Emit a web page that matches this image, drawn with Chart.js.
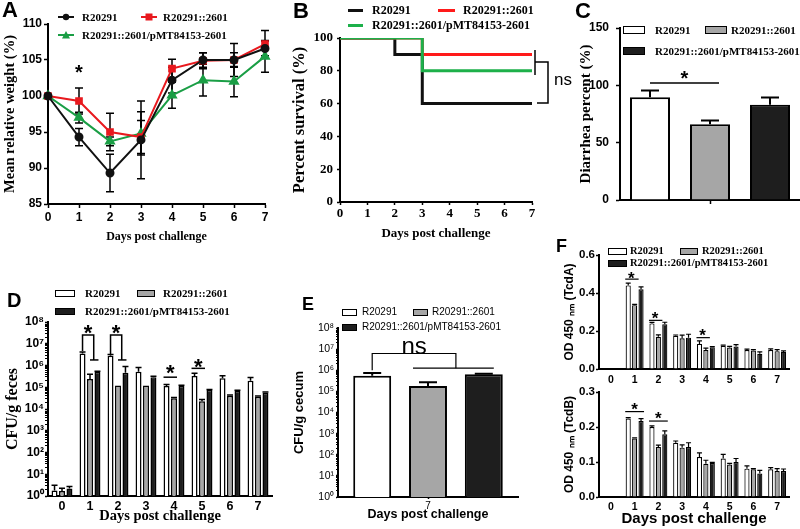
<!DOCTYPE html>
<html>
<head>
<meta charset="utf-8">
<script src="https://cdn.jsdelivr.net/npm/chart.js@4.4.1/dist/chart.umd.min.js"></script>
<style>
    body { margin: 0; background: #fff; }
    #fig { position: relative; width: 800px; height: 529px; overflow: hidden; background: #fff; }
    #fig canvas { position: absolute; }
    .txt { position: absolute; white-space: nowrap; color: #000; }
    .sw { position: absolute; box-sizing: border-box; }
</style>
</head>
<body>
<div id="fig"></div>
<script>
const DAYS = ['0', '1', '2', '3', '4', '5', '6', '7'];
const GROUPS = ['R20291', 'R20291::2601', 'R20291::2601/pMT84153-2601'];

// A - mean relative weight (%)
const weightWT = [100, 94.3, 89.3, 93.9, 102.2, 105.0, 105.0, 106.6];
const weightWTSem = [0, 1.2, 2.6, 5.4, 1.8, 1.0, 1.0, 1.0];
const weightMut = [100, 99.3, 95.0, 94.3, 103.8, 104.9, 105.0, 107.2];
const weightMutSem = [0, 1.8, 2.6, 2.3, 1.3, 1.1, 2.3, 1.9];
const weightComp = [100, 97.0, 93.7, 94.8, 100.1, 102.2, 102.0, 105.5];
const weightCompSem = [0, 0.75, 0.6, 3.0, 1.8, 2.2, 2.1, 2.2];

// B - percent survival (step points)
const survWTDays = [0, 2, 3, 7];
const survWT = [100, 90, 60, 60];
const survMutDays = [0, 3, 7];
const survMut = [100, 90, 90];
const survCompDays = [0, 3, 7];
const survComp = [100, 80, 80];

// C - diarrhea percent
const diarrhea = [89.7, 66.1, 83.0];
const diarrheaSem = [5.8, 3.2, 6.4];

// D - CFU/g feces
const fecesWT = [1.8, 3.6e6, 2.8e6, 5.2e5, 1.15e5, 3.3e5, 2.6e5, 2.0e5];
const fecesWTSem = [1.3, 0.6e6, 0.4e6, 2.8e5, 0.2e5, 1.1e5, 0.8e5, 0.8e5];
const fecesMut = [1.7, 2.4e5, 1.2e5, 1.2e5, 3.1e4, 2.3e4, 4.1e4, 3.7e4];
const fecesMutSem = [0.6, 1.6e5, 0, 0, 0.3e4, 0.4e4, 0.3e4, 0.3e4];
const fecesComp = [2.2, 5.2e5, 4.6e5, 2.9e5, 1.15e5, 7.4e4, 6.8e4, 5.6e4];
const fecesCompSem = [0.5, 0.3e5, 4.4e5, 0.3e5, 0.1e5, 0.5e4, 0.5e4, 0.4e4];

// E - CFU/g cecum, day 7
const cecum = [5.5e5, 1.8e5, 6.5e5];
const cecumSem = [1.9e5, 0.9e5, 0.3e5];

// F - OD 450 nm, TcdA and TcdB
const tcdaWT = [null, 0.440, 0.240, 0.175, 0.132, 0.122, 0.100, 0.100];
const tcdaWTSem = [0, 0.012, 0.005, 0.004, 0.016, 0.004, 0.005, 0.006];
const tcdaMut = [null, 0.336, 0.170, 0.162, 0.100, 0.113, 0.097, 0.094];
const tcdaMutSem = [0, 0.004, 0.010, 0.016, 0.010, 0.006, 0.005, 0.008];
const tcdaComp = [null, 0.420, 0.236, 0.165, 0.115, 0.118, 0.080, 0.090];
const tcdaCompSem = [0, 0.012, 0.010, 0.018, 0.003, 0.010, 0.010, 0.005];

const tcdbWT = [null, 0.224, 0.200, 0.155, 0.114, 0.110, 0.081, 0.079];
const tcdbWTSem = [0, 0.003, 0.003, 0.005, 0.012, 0.012, 0.008, 0.005];
const tcdbMut = [null, 0.167, 0.143, 0.141, 0.095, 0.093, 0.079, 0.074];
const tcdbMutSem = [0, 0.002, 0.005, 0.008, 0.010, 0.003, 0.002, 0.007];
const tcdbComp = [null, 0.217, 0.179, 0.143, 0.097, 0.100, 0.067, 0.074];
const tcdbCompSem = [0, 0.007, 0.010, 0.012, 0.002, 0.010, 0.009, 0.006];

// log axis tick exponents (10^0 .. 10^8)
const LOG_EXPS = [0, 1, 2, 3, 4, 5, 6, 7, 8];
const SUPS = ['⁰', '¹', '²', '³', '⁴', '⁵', '⁶', '⁷', '⁸'];

const LINE_COLORS = ['#111111', '#e8191e', '#1a9e45'];
const FILLS = ['#ffffff', '#a6a6a6', '#1e1e1e'];
const SANS = "'Liberation Sans', Arial, sans-serif";
const SERIF = "'Liberation Serif', 'Times New Roman', serif";

const fig = document.getElementById('fig');
const font = (family, size, weight = 'bold') => ({family, size, weight, lineHeight: 1.2});

function addCanvas(l, t, w, h) {
    const c = document.createElement('canvas');
    c.width = w;
    c.height = h;
    c.style.left = l + 'px';
    c.style.top = t + 'px';
    fig.appendChild(c);
    return c;
}

function addText(text, x, y, css) {
    const d = document.createElement('div');
    d.className = 'txt';
    d.textContent = text;
    d.style.left = x + 'px';
    d.style.top = y + 'px';
    Object.assign(d.style, css);
    fig.appendChild(d);
    return d;
}

function addSwatch(x, y, w, h, css) {
    const d = document.createElement('div');
    d.className = 'sw';
    Object.assign(d.style, {left: x + 'px', top: (y - h / 2) + 'px', width: w + 'px', height: h + 'px'}, css);
    fig.appendChild(d);
}

function addMarker(x, y, color, shape) {
    const ns = 'http://www.w3.org/2000/svg';
    const svg = document.createElementNS(ns, 'svg');
    svg.setAttribute('width', 16);
    svg.setAttribute('height', 10);
    svg.style.position = 'absolute';
    svg.style.left = x + 'px';
    svg.style.top = (y - 5) + 'px';
    let mark = '';
    if (shape === 'circle') mark = `<circle cx="8" cy="5" r="3.2" fill="${color}"/>`;
    if (shape === 'rect') mark = `<rect x="4.5" y="1.5" width="7" height="7" fill="${color}"/>`;
    if (shape === 'triangle') mark = `<polygon points="8,1 12,8.5 4,8.5" fill="${color}"/>`;
    svg.innerHTML = `<line x1="0" y1="5" x2="16" y2="5" stroke="${color}" stroke-width="2"/>` + mark;
    fig.appendChild(svg);
}

function legendText(text, x, y, size, family = SERIF, weight = 'bold') {
    addText(text, x, y - 7, {font: `${weight} ${size}px ${family}`, lineHeight: '14px'});
}

function panelLetter(letter, x, y, size) {
    addText(letter, x, y, {font: `bold ${size}px ${SANS}`, lineHeight: '1'});
}

function isPow10(v) {
    const l = Math.log10(v);
    return Math.abs(l - Math.round(l)) < 1e-9;
}

function setLogTicks(scale) {
    const ticks = [];
    LOG_EXPS.forEach(e => {
        ticks.push({value: Math.pow(10, e)});
        if (e < 8) for (let m = 2; m < 10; m++) ticks.push({value: m * Math.pow(10, e)});
    });
    scale.ticks = ticks;
}

function logLabel(value) {
    return isPow10(value) ? '10' + SUPS[Math.round(Math.log10(value))] : '';
}

function axis(thick, o) {
    const marks = (o.tickLength || 0) > 0;
    return Object.assign({
        afterFit(s) { if (s.isHorizontal()) s.height = thick; else s.width = thick; },
        border: {color: '#000', width: 2},
        grid: {
            display: marks, drawOnChartArea: false, drawTicks: marks, offset: false,
            tickLength: o.tickLength || 0, tickWidth: o.tickWidth || 1.5, tickColor: '#000'
        },
        ticks: Object.assign({color: '#000', font: o.tickFont, padding: o.tickPad || 0, autoSkip: false, maxRotation: 0}, o.ticks),
        title: {display: !!o.title, text: o.title || '', color: '#000', font: o.titleFont, padding: o.titlePad || 0}
    }, o.scale);
}

// SEM whiskers, drawn through the y scale
const errorBars = {
    id: 'errorBars',
    beforeDatasetsDraw(chart) {
        const ctx = chart.ctx;
        const y = chart.scales.y;
        chart.data.datasets.forEach((ds, i) => {
            if (!ds.errors) return;
            chart.getDatasetMeta(i).data.forEach((el, j) => {
                const v = ds.data[j];
                const e = ds.errors[j];
                if (v == null || !e) return;
                const top = y.getPixelForValue(v + e);
                const bot = ds.bothErrors ? y.getPixelForValue(v - e) : el.y;
                const cap = ds.errCap || 4;
                ctx.save();
                ctx.strokeStyle = '#000';
                ctx.lineWidth = ds.errWidth || 1.5;
                ctx.beginPath();
                ctx.moveTo(el.x, bot);
                ctx.lineTo(el.x, top);
                ctx.moveTo(el.x - cap, top);
                ctx.lineTo(el.x + cap, top);
                if (ds.bothErrors) {
                    ctx.moveTo(el.x - cap, bot);
                    ctx.lineTo(el.x + cap, bot);
                }
                ctx.stroke();
                ctx.restore();
            });
        });
    }
};

function overlay(id, draw) {
    return {
        id,
        afterDatasetsDraw(chart) {
            const ctx = chart.ctx;
            ctx.save();
            ctx.strokeStyle = '#000';
            ctx.fillStyle = '#000';
            draw(chart, ctx);
            ctx.restore();
        }
    };
}

function poly(ctx, pts, lw = 1.5) {
    ctx.lineWidth = lw;
    ctx.beginPath();
    pts.forEach((p, i) => i ? ctx.lineTo(p[0], p[1]) : ctx.moveTo(p[0], p[1]));
    ctx.stroke();
}

function star(ctx, x, y, size) {
    ctx.font = `bold ${size}px ${SANS}`;
    ctx.textAlign = 'center';
    ctx.textBaseline = 'alphabetic';
    ctx.fillText('*', x, y + 0.56 * size);
}

function word(ctx, text, x, y, size) {
    ctx.font = `${size}px ${SANS}`;
    ctx.textAlign = 'center';
    ctx.textBaseline = 'alphabetic';
    ctx.fillText(text, x, y + 0.26 * size);
}

const barX = (chart, ds, i) => chart.getDatasetMeta(ds).data[i].x;

function lineSet(label, data, errors, color, pointStyle, radius) {
    return {
        label, data, errors, errCap: 4, bothErrors: true,
        borderColor: color, backgroundColor: color, borderWidth: 2,
        pointStyle, pointRadius: radius, pointBackgroundColor: color, pointBorderColor: color
    };
}

function stepSet(label, days, values, color, order) {
    return {
        label, order, data: days.map((d, i) => ({x: d, y: values[i]})),
        borderColor: color, borderWidth: 3, pointRadius: 0, stepped: true
    };
}

function barSet(label, data, errors, fill, o) {
    return Object.assign({label, data, errors, backgroundColor: fill, borderColor: '#000'}, o);
}

function makeChart(rect, pad, type, data, scales, extra) {
    const canvas = addCanvas(...rect);
    return new Chart(canvas, {
        type,
        data,
        options: {
            responsive: false,
            animation: false,
            events: [],
            layout: {padding: pad},
            plugins: {legend: {display: false}, tooltip: {enabled: false}},
            scales
        },
        plugins: [errorBars].concat(extra || [])
    });
}

// ---------- A ----------
makeChart([0, 0, 272, 248], {left: 0, top: 24, right: 7, bottom: 0}, 'line', {
    labels: DAYS,
    datasets: [
        lineSet(GROUPS[0], weightWT, weightWTSem, LINE_COLORS[0], 'circle', 3.5),
        lineSet(GROUPS[1], weightMut, weightMutSem, LINE_COLORS[1], 'rect', 4),
        lineSet(GROUPS[2], weightComp, weightCompSem, LINE_COLORS[2], 'triangle', 4.5)
    ]
}, {
    x: axis(44, {tickLength: 4, tickPad: 2, tickFont: font(SANS, 12), title: 'Days post challenge',
        titleFont: font(SERIF, 12), titlePad: {bottom: 4}, scale: {offset: false}}),
    y: axis(48, {tickLength: 4, tickPad: 2, tickFont: font(SANS, 12), title: 'Mean relative weight (%)',
        titleFont: font(SERIF, 14.5), titlePad: {top: 2}, ticks: {stepSize: 5}, scale: {min: 85, max: 110}})
}, [overlay('starA', (chart, ctx) => {
    star(ctx, chart.scales.x.getPixelForValue(1), chart.scales.y.getPixelForValue(103.9), 20);
})]);

// ---------- B ----------
makeChart([272, 0, 310, 248], {left: 0, top: 38, right: 50, bottom: 0}, 'line', {
    datasets: [
        stepSet(GROUPS[0], survWTDays, survWT, '#111111', 2),
        stepSet(GROUPS[1], survMutDays, survMut, '#ff1a1a', 1),
        stepSet(GROUPS[2], survCompDays, survComp, '#1db04a', 0)
    ]
}, {
    x: axis(46, {tickLength: 3, tickPad: 1, tickFont: font(SERIF, 13), title: 'Days post challenge',
        titleFont: font(SERIF, 13), titlePad: {bottom: 7}, ticks: {stepSize: 1},
        scale: {type: 'linear', min: 0, max: 7}}),
    y: axis(68, {tickLength: 3, tickPad: 4, tickFont: font(SERIF, 13), title: 'Percent survival (%)',
        titleFont: font(SERIF, 16.5), titlePad: {top: 18}, ticks: {stepSize: 20}, scale: {min: 0, max: 100}})
}, [overlay('nsB', (chart, ctx) => {
    const x7 = chart.scales.x.getPixelForValue(7);
    const y = v => chart.scales.y.getPixelForValue(v);
    poly(ctx, [[x7 + 3, y(92.7)], [x7 + 3, y(77.4)]]);
    poly(ctx, [[x7 + 3, y(85.4)], [x7 + 16, y(85.4)], [x7 + 16, y(60.4)], [x7 + 5, y(60.4)]]);
    word(ctx, 'ns', x7 + 31, y(73.8), 17);
})]);

// ---------- C ----------
const cBars = {borderWidth: 2, barPercentage: 0.667, categoryPercentage: 1, errCap: 9, errWidth: 2};
makeChart([565, 0, 235, 248], {left: 0, top: 28, right: 0, bottom: 0}, 'bar', {
    labels: [''],
    datasets: GROUPS.map((g, i) => barSet(g, [diarrhea[i]], [diarrheaSem[i]], FILLS[i], cBars))
}, {
    x: axis(48, {tickLength: 4, ticks: {display: false}}),
    y: axis(55, {tickLength: 4, tickPad: 7, tickFont: font(SANS, 12), title: 'Diarrhea percent (%)',
        titleFont: font(SERIF, 15), titlePad: {top: 12}, ticks: {stepSize: 50}, scale: {min: 0, max: 150}})
}, [overlay('sigC', (chart, ctx) => {
    const y = v => chart.scales.y.getPixelForValue(v);
    const xw = barX(chart, 0, 0), xg = barX(chart, 1, 0);
    poly(ctx, [[xw, y(102)], [xg + 9, y(102)]]);
    star(ctx, (xw + xg + 9) / 2, y(110), 20);
})]);

// ---------- D ----------
const dBars = {borderWidth: 1.5, barPercentage: 0.8, categoryPercentage: 0.8, errCap: 3};
makeChart([0, 280, 280, 249], {left: 0, top: 42, right: 8, bottom: 0}, 'bar', {
    labels: DAYS,
    datasets: [
        barSet(GROUPS[0], fecesWT, fecesWTSem, FILLS[0], dBars),
        barSet(GROUPS[1], fecesMut, fecesMutSem, FILLS[1], dBars),
        barSet(GROUPS[2], fecesComp, fecesCompSem, FILLS[2], dBars)
    ]
}, {
    x: axis(33, {tickPad: 3.5, tickFont: font(SANS, 12.5), title: 'Days post challenge',
        titleFont: font(SERIF, 14.5), titlePad: {bottom: 4.3}}),
    y: axis(48, {tickLength: 3, tickPad: 1, tickFont: font(SANS, 12), title: 'CFU/g feces',
        tickWidth: c => (c.tick && isPow10(c.tick.value)) ? 1.5 : 1,
        titleFont: font(SERIF, 16), titlePad: {top: 3}, ticks: {callback: logLabel},
        scale: {type: 'logarithmic', min: 1, max: 1e8, afterBuildTicks: setLogTicks}})
}, [overlay('sigD', (chart, ctx) => {
    const y = v => chart.scales.y.getPixelForValue(v);
    [[1, 4.6e6], [2, 3.4e6]].forEach(([d, start]) => {
        const xw = barX(chart, 0, d), xg = barX(chart, 1, d), xb = barX(chart, 2, d);
        const xr = (xg + xb) / 2;
        poly(ctx, [[xw, y(start)], [xw, y(2.5e7)], [xr, y(2.5e7)], [xr, y(1.8e6)]]);
        poly(ctx, [[xg, y(1.8e6)], [xb + 1, y(1.8e6)]]);
        star(ctx, (xw + xr) / 2, y(5.5e7), 22);
    });
    [[4, 2.9e5, 7.7e5], [5, 7.4e5, 1.5e6]].forEach(([d, lv, sv]) => {
        const xw = barX(chart, 0, d), xg = barX(chart, 1, d);
        poly(ctx, [[xw - 3, y(lv)], [xg + 3, y(lv)]]);
        star(ctx, (xw + xg) / 2, y(sv), 22);
    });
})]);

// ---------- E ----------
const eBars = {borderWidth: 2, barPercentage: 0.68, categoryPercentage: 0.93, errCap: 9, errWidth: 2};
makeChart([280, 280, 250, 249], {left: 0, top: 48, right: 12, bottom: 0}, 'bar', {
    labels: ['7'],
    datasets: GROUPS.map((g, i) => barSet(g, [cecum[i]], [cecumSem[i]], FILLS[i], eBars))
}, {
    x: axis(32, {tickLength: 2, tickPad: 1, tickFont: font(SANS, 10, 'normal'), title: 'Days post challenge',
        titleFont: font(SANS, 12.5), titlePad: {bottom: 6.5}}),
    y: axis(58, {tickLength: 2, tickPad: 2, tickFont: font(SANS, 10.5, 'normal'), title: 'CFU/g cecum',
        tickWidth: c => (c.tick && isPow10(c.tick.value)) ? 1.5 : 1,
        titleFont: font(SANS, 13), titlePad: {top: 12}, ticks: {callback: logLabel},
        scale: {type: 'logarithmic', min: 1, max: 1e8, afterBuildTicks: setLogTicks}})
}, [overlay('nsE', (chart, ctx) => {
    const y = v => chart.scales.y.getPixelForValue(v);
    const xw = barX(chart, 0, 0), xg = barX(chart, 1, 0), xb = barX(chart, 2, 0);
    const xm = (xg + xb) / 2;
    poly(ctx, [[xw, y(1e6)], [xw, y(6.2e6)], [xm, y(6.2e6)], [xm, y(1.26e6)]], 1.2);
    poly(ctx, [[xg - 15, y(1.26e6)], [xb + 10, y(1.26e6)]], 1.2);
    word(ctx, 'ns', (xw + xg) / 2 + 14, y(1.2e7), 24);
})]);

// ---------- F ----------
const fBars = {borderWidth: 1.2, barPercentage: 0.8, categoryPercentage: 0.81, errCap: 2.5, errWidth: 1.2};
const fTickFmt = v => v.toFixed(1);

makeChart([530, 235, 270, 152], {left: 0, top: 20, right: 11, bottom: 0}, 'bar', {
    labels: DAYS,
    datasets: [
        barSet(GROUPS[0], tcdaWT, tcdaWTSem, FILLS[0], fBars),
        barSet(GROUPS[1], tcdaMut, tcdaMutSem, FILLS[1], fBars),
        barSet(GROUPS[2], tcdaComp, tcdaCompSem, FILLS[2], fBars)
    ]
}, {
    x: axis(18, {tickPad: 5, tickFont: font(SANS, 10.5)}),
    y: axis(69, {tickLength: 3, tickPad: 1, tickFont: font(SANS, 11.5), title: 'OD 450 ₙₘ (TcdA)',
        titleFont: font(SANS, 12), titlePad: {top: 32}, ticks: {stepSize: 0.2, callback: fTickFmt},
        scale: {min: 0, max: 0.6}})
}, [overlay('sigFa', (chart, ctx) => {
    const y = v => chart.scales.y.getPixelForValue(v);
    [[1, 0.473, 0.5], [2, 0.256, 0.287], [4, 0.165, 0.195]].forEach(([d, lv, sv]) => {
        const xw = barX(chart, 0, d), xg = barX(chart, 1, d);
        poly(ctx, [[xw - 3, y(lv)], [xg + 4, y(lv)]], 1.2);
        star(ctx, (xw + xg) / 2, y(sv), 17);
    });
})]);

makeChart([530, 380, 270, 149], {left: 0, top: 12, right: 11, bottom: 0}, 'bar', {
    labels: DAYS,
    datasets: [
        barSet(GROUPS[0], tcdbWT, tcdbWTSem, FILLS[0], fBars),
        barSet(GROUPS[1], tcdbMut, tcdbMutSem, FILLS[1], fBars),
        barSet(GROUPS[2], tcdbComp, tcdbCompSem, FILLS[2], fBars)
    ]
}, {
    x: axis(32, {tickPad: 4, tickFont: font(SANS, 10.5), title: 'Days post challenge',
        titleFont: font(SANS, 15), titlePad: {bottom: 1}}),
    y: axis(69, {tickLength: 3, tickPad: 1, tickFont: font(SANS, 11.5), title: 'OD 450 ₙₘ (TcdB)',
        titleFont: font(SANS, 12), titlePad: {top: 32}, ticks: {stepSize: 0.1, callback: fTickFmt},
        scale: {min: 0, max: 0.3}})
}, [overlay('sigFb', (chart, ctx) => {
    const y = v => chart.scales.y.getPixelForValue(v);
    [[1, 0.244, 0.262], [2, 0.217, 0.235]].forEach(([d, lv, sv]) => {
        const xw = barX(chart, 0, d), xb = barX(chart, 2, d);
        poly(ctx, [[xw - 3, y(lv)], [xb + 3, y(lv)]], 1.2);
        star(ctx, (xw + xb) / 2, y(sv), 17);
    });
})]);

// ---------- legends & panel letters ----------
addMarker(58, 17, LINE_COLORS[0], 'circle');   legendText(GROUPS[0], 82, 17, 11);
addMarker(141, 17, LINE_COLORS[1], 'rect');    legendText(GROUPS[1], 163, 17, 11);
addMarker(58, 35, LINE_COLORS[2], 'triangle'); legendText(GROUPS[2], 82, 35, 11);

addSwatch(348, 10, 15, 3, {background: '#111111'}); legendText(GROUPS[0], 372, 10, 12);
addSwatch(438, 10, 17, 3, {background: '#ff1a1a'}); legendText(GROUPS[1], 463, 10, 12);
addSwatch(348, 25, 15, 3, {background: '#1db04a'}); legendText(GROUPS[2], 372, 25, 12);

const boxBorder = b => ({border: `${b}px solid #000`});
addSwatch(623, 29.5, 22, 8, Object.assign({background: FILLS[0]}, boxBorder(1.5))); legendText(GROUPS[0], 655, 29.5, 11);
addSwatch(705, 29.5, 22, 8, Object.assign({background: FILLS[1]}, boxBorder(1.5))); legendText(GROUPS[1], 731, 29.5, 11);
addSwatch(623, 50.5, 22, 8, Object.assign({background: FILLS[2]}, boxBorder(1.5))); legendText(GROUPS[2], 655, 50.5, 11);

addSwatch(55, 293, 20, 7, Object.assign({background: FILLS[0]}, boxBorder(1.5))); legendText(GROUPS[0], 85, 293, 11);
addSwatch(137, 293, 18, 7, Object.assign({background: FILLS[1]}, boxBorder(1.5))); legendText(GROUPS[1], 163, 293, 11);
addSwatch(55, 311, 20, 7, Object.assign({background: FILLS[2]}, boxBorder(1.5))); legendText(GROUPS[2], 85, 311, 11);

addSwatch(342, 312, 15, 7, Object.assign({background: FILLS[0]}, boxBorder(1.5))); legendText(GROUPS[0], 362, 312, 10, SANS, 'normal');
addSwatch(413, 312, 15, 7, Object.assign({background: FILLS[1]}, boxBorder(1.5))); legendText(GROUPS[1], 432, 312, 10, SANS, 'normal');
addSwatch(342, 327, 15, 7, Object.assign({background: FILLS[2]}, boxBorder(1.5))); legendText(GROUPS[2], 362, 327, 10, SANS, 'normal');

addSwatch(608, 251, 19, 7, Object.assign({background: FILLS[0]}, boxBorder(1.5))); legendText(GROUPS[0], 630, 251, 10.5);
addSwatch(680, 251, 18, 7, Object.assign({background: FILLS[1]}, boxBorder(1.5))); legendText(GROUPS[1], 702, 251, 10.5);
addSwatch(608, 263, 19, 7, Object.assign({background: FILLS[2]}, boxBorder(1.5))); legendText(GROUPS[2], 630, 263, 10.5);

panelLetter('A', 2, -1, 22);
panelLetter('B', 293, 0, 22);
panelLetter('C', 575, 0, 22);
panelLetter('D', 7, 290, 20);
panelLetter('E', 302, 295, 18);
panelLetter('F', 556, 237, 18);
</script>
</body>
</html>
